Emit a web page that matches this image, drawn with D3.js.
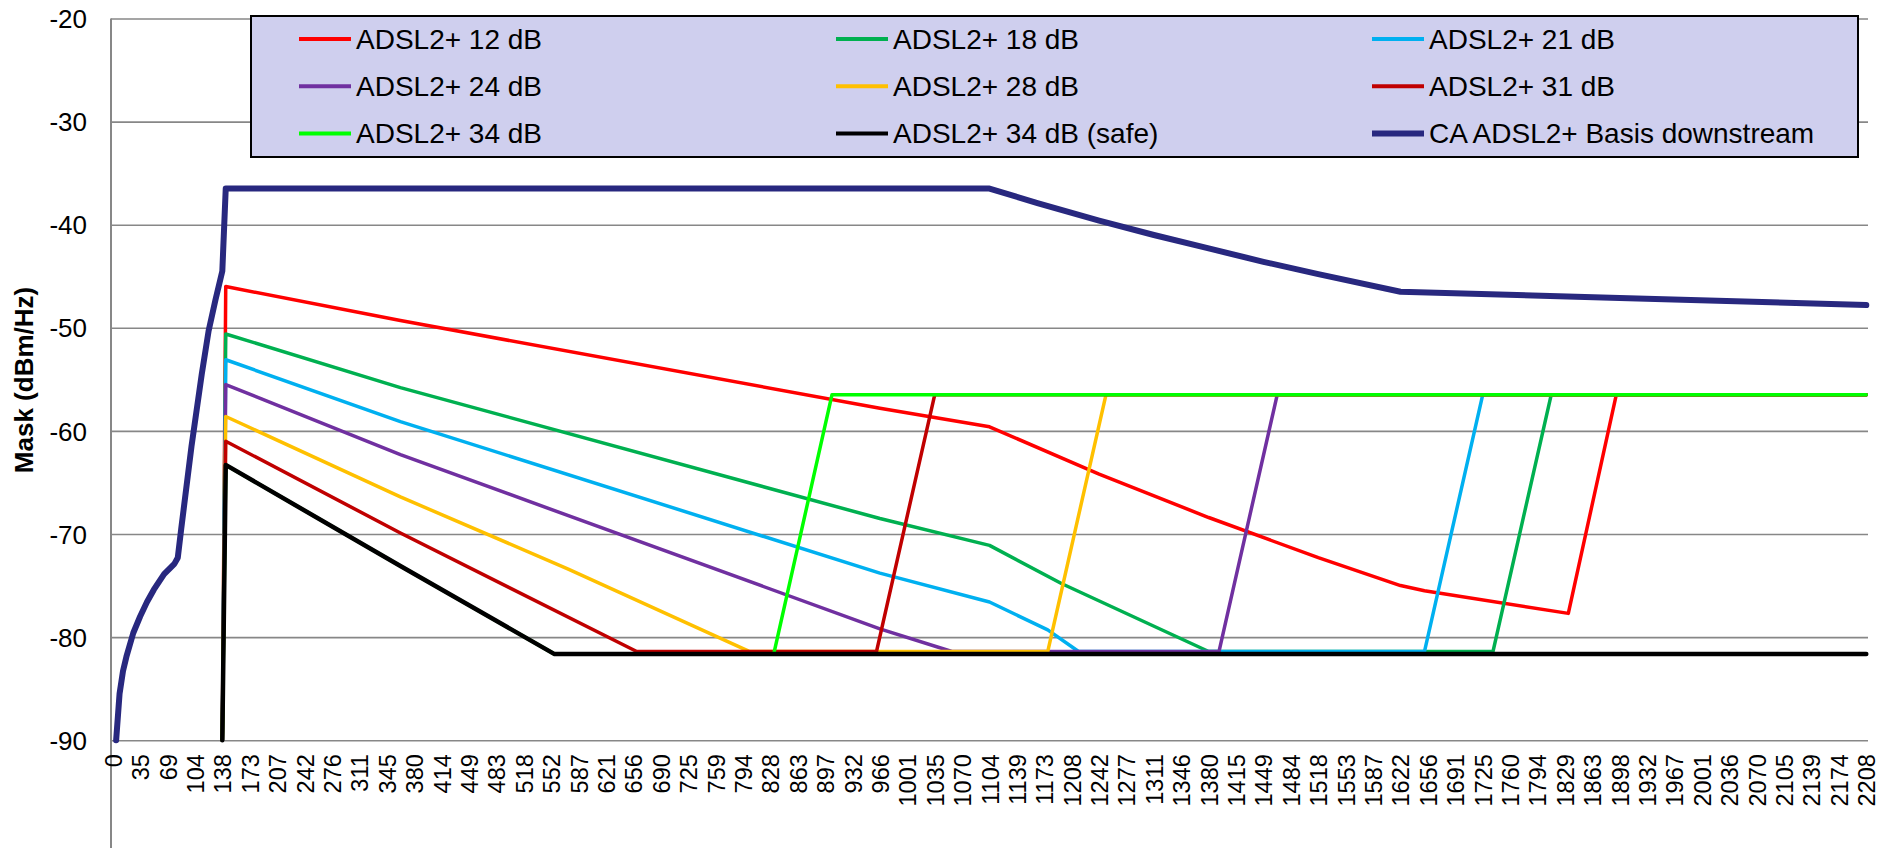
<!DOCTYPE html>
<html>
<head>
<meta charset="utf-8">
<script src="https://cdn.jsdelivr.net/npm/d3@7"></script>
<style>
  html, body { margin: 0; padding: 0; background: #ffffff; }
  svg { display: block; font-family: "Liberation Sans", Arial, sans-serif; }
</style>
</head>
<body>
<svg id="chart" width="1890" height="848"></svg>
<script>
// ---- Data (tone index -> PSD mask dBm/Hz) ----
const xTickLabels = ["0","35","69","104","138","173","207","242","276","311","345","380","414","449","483","518","552","587","621","656","690","725","759","794","828","863","897","932","966","1001","1035","1070","1104","1139","1173","1208","1242","1277","1311","1346","1380","1415","1449","1484","1518","1553","1587","1622","1656","1691","1725","1760","1794","1829","1863","1898","1932","1967","2001","2036","2070","2105","2139","2174","2208"];
const yTickValues = [-90, -80, -70, -60, -50, -40, -30, -20];

const seriesNames = ["ADSL2+ 12 dB","ADSL2+ 18 dB","ADSL2+ 21 dB","ADSL2+ 24 dB","ADSL2+ 28 dB","ADSL2+ 31 dB","ADSL2+ 34 dB","ADSL2+ 34 dB (safe)","CA ADSL2+ Basis downstream"];
const seriesColors = ["#FF0000","#00B050","#00B0F0","#7030A0","#FFC000","#C00000","#00FF00","#000000","#28287F"];

const adsl12 = [[32,-90],[33,-46],[84,-49.3],[224,-57.8],[256,-59.6],[288,-64.2],[320,-68.4],[352,-72.3],[376,-75],[383,-75.5],[425,-77.7],[439,-56.5],[512,-56.5]];
const adsl18 = [[32,-90],[33,-50.6],[84,-55.8],[224,-68.5],[256,-71.1],[277,-74.8],[320,-81.4],[403,-81.4],[420,-56.5],[512,-56.5]];
const adsl21 = [[32,-90],[33,-53.1],[84,-59.1],[224,-73.8],[256,-76.6],[273,-79.3],[282,-81.4],[383,-81.4],[400,-56.5],[512,-56.5]];
const adsl24 = [[32,-90],[33,-55.5],[84,-62.3],[224,-79.2],[245,-81.4],[323,-81.4],[340,-56.5],[512,-56.5]];
const adsl28 = [[32,-90],[33,-58.6],[84,-66.4],[133,-73.4],[186,-81.4],[273,-81.4],[290,-56.5],[512,-56.5]];
const adsl31 = [[32,-90],[33,-61],[84,-69.9],[153,-81.4],[223,-81.4],[240,-56.5],[512,-56.5]];
const adsl34 = [[32,-90],[33,-63.3],[84,-73.1],[129,-81.65],[193,-81.65],[210,-56.5],[512,-56.5]];
const adsl34safe = [[32,-90],[33,-63.3],[84,-73.1],[129,-81.65],[512,-81.65]];
const caBasis = [[1,-90],[2,-85.5],[3,-83.3],[4,-81.9],[6,-79.6],[8,-78],[10,-76.6],[12,-75.4],[15,-73.9],[18,-72.9],[19,-72.3],[20,-69.5],[23,-61.5],[26,-54.5],[28,-50.3],[30,-47.3],[32,-44.5],[33,-36.5],[256,-36.5],[270,-37.9],[288,-39.6],[304,-41],[320,-42.3],[336,-43.6],[352,-44.8],[376,-46.5],[440,-47.1],[512,-47.8]];

const seriesData = [adsl12, adsl18, adsl21, adsl24, adsl28, adsl31, adsl34, adsl34safe, caBasis];
const seriesWidths = [3.5,3.5,3.5,3.5,3.5,3.5,3.5,4.5,6];

// ---- Layout ----
const plotLeft = 111, plotRight = 1868, plotTop = 18.5, plotBottom = 740.2;
const nTones = 513;
const svg = d3.select("#chart");

const x = d3.scaleLinear().domain([-0.5, nTones - 0.5]).range([plotLeft, plotRight]);
const y = d3.scaleLinear().domain([-90, -20]).range([plotBottom, plotTop]);

// gridlines + y labels
const yAxis = d3.axisLeft(y).tickValues(yTickValues).tickSizeInner(-(plotRight - plotLeft)).tickSizeOuter(0).tickPadding(24).tickFormat(d3.format("d"));
const gy = svg.append("g").attr("transform", `translate(${plotLeft},0)`).call(yAxis);
gy.select(".domain").remove();
gy.selectAll(".tick line").attr("stroke", "#878787").attr("stroke-width", 1.6);
gy.selectAll(".tick text").attr("fill", "#000").attr("font-size", "26px").attr("dy", "0.35em")
  .text(d => d < 0 ? "-" + Math.abs(d) : d);

// y axis line
svg.append("line").attr("x1", plotLeft).attr("x2", plotLeft).attr("y1", plotTop).attr("y2", 848)
  .attr("stroke", "#878787").attr("stroke-width", 2);

// x labels
const xTickTones = xTickLabels.map((_, i) => i * 8);
const xAxis = d3.axisBottom(x).tickValues(xTickTones).tickSize(0).tickFormat((d, i) => xTickLabels[i]);
const gx = svg.append("g").attr("transform", `translate(0,${plotBottom})`).call(xAxis);
gx.select(".domain").remove();
gx.selectAll(".tick text")
  .attr("transform", "rotate(-90)")
  .attr("text-anchor", "end")
  .attr("x", -14).attr("y", 8.5).attr("dy", 0)
  .attr("fill", "#000").attr("font-size", "23.5px");

// y title
svg.append("text").attr("transform", "translate(33,380) rotate(-90)")
  .attr("text-anchor", "middle").attr("font-weight", "bold").attr("font-size", "26px")
  .text("Mask (dBm/Hz)");

// series
const line = d3.line().x(d => x(d[0])).y(d => y(d[1]));
seriesData.forEach((data, i) => {
  svg.append("path").datum(data).attr("d", line)
    .attr("fill", "none").attr("stroke", seriesColors[i]).attr("stroke-width", seriesWidths[i])
    .attr("stroke-linejoin", "round").attr("stroke-linecap", "round");
});

// legend
const lg = svg.append("g");
lg.append("rect").attr("x", 251).attr("y", 16).attr("width", 1607).attr("height", 141)
  .attr("fill", "#CFCFEE").attr("stroke", "#000").attr("stroke-width", 2);
const colX = [299, 836, 1372];
seriesNames.forEach((name, i) => {
  const cx = colX[i % 3], cy = 39 + Math.floor(i / 3) * 47.2;
  lg.append("line").attr("x1", cx).attr("x2", cx + 52).attr("y1", cy).attr("y2", cy)
    .attr("stroke", seriesColors[i]).attr("stroke-width", i === 8 ? 6 : 4);
  lg.append("text").attr("x", cx + 57).attr("y", cy).attr("dy", "0.35em")
    .attr("font-size", "28px").attr("fill", "#000").text(name);
});
</script>
</body>
</html>
